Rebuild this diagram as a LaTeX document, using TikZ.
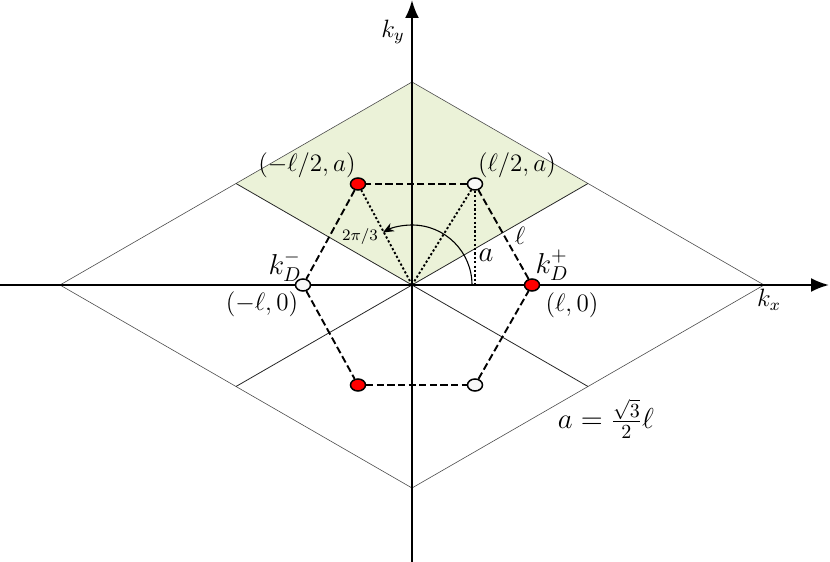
\documentclass[tikz,border=0pt]{standalone}
\usetikzlibrary{arrows.meta,shapes.geometric}
\definecolor{cellgreen}{RGB}{235,242,216}
\tikzset{
  thinline/.style={line width=0.3pt,draw=black!70},
  innerline/.style={line width=0.4pt,draw=black!85},
  axisline/.style={line width=1.15pt,-{Latex[length=9pt,width=7pt]}},
  hexline/.style={line width=0.95pt,dash pattern=on 3.6pt off 1.7pt},
  dotline/.style={line width=0.95pt,dash pattern=on 1.1pt off 1.1pt},
  dirac/.style={ellipse,draw=black,line width=0.75pt,minimum width=7.5pt,minimum height=6pt,inner sep=0pt},
  redpt/.style={dirac,fill=red},
  whitept/.style={dirac,fill=black!3},
  lab/.style={font=\fontsize{12}{15}\selectfont,inner sep=0pt,scale=1.045,transform shape},
  biglab/.style={font=\fontsize{14}{17}\selectfont,inner sep=0pt},
  smalllab/.style={font=\fontsize{8.5}{10}\selectfont,inner sep=0pt},
}
\begin{document}
\begin{tikzpicture}[x=0.5pt,y=0.5pt]
\useasboundingbox (0,0) rectangle (830,562);
\coordinate (O) at (412,277);
\coordinate (L) at (60,277);
\coordinate (R) at (764,277);
\coordinate (T) at (412,480);
\coordinate (B) at (412,74);
\coordinate (UL) at (236,378.5);
\coordinate (UR) at (588,378.5);
\coordinate (LL) at (236,175.5);
\coordinate (LR) at (588,175.5);
\coordinate (XS) at (0,277);
\coordinate (XE) at (829,277);
\coordinate (YS) at (412,0);
\coordinate (YE) at (412,562);
\coordinate (AF) at (475,277);
\fill[cellgreen] (O) -- (UR) -- (T) -- (UL) -- cycle;
\draw[thinline] (L) -- (T) -- (R) -- (B) -- cycle;
\draw[innerline] (UL) -- (O) -- (UR) (LL) -- (O) -- (LR);
\draw[axisline] (XS) -- (XE);
\draw[axisline] (YS) -- (YE);
\node[redpt] (p1) at (532,277) {};
\node[whitept] (p2) at (475,378) {};
\node[redpt] (p3) at (358,378) {};
\node[whitept] (p4) at (303,277) {};
\node[redpt] (p5) at (358,177) {};
\node[whitept] (p6) at (475,177) {};
\draw[hexline] (p1) -- (p2);
\draw[hexline] (p2) -- (p3);
\draw[hexline] (p3) -- (p4);
\draw[hexline] (p4) -- (p5);
\draw[hexline] (p5) -- (p6);
\draw[hexline] (p6) -- (p1);
\draw[dotline] (O) -- (p3);
\draw[dotline] (O) -- (p2);
\draw[dotline] (p2) -- (AF);
\draw[line width=0.55pt,-{Stealth[length=5.5pt,width=4.5pt]}] (472,277) arc[start angle=0,end angle=119,radius=30pt];
\node[lab] (ky) at (393,530) {$k_y$};
\node[lab] (kx) at (769,262) {$k_x$};
\node[lab] (a1) at (517,397) {$(\ell/2,a)$};
\node[lab] (a2) at (307,397) {$(-\ell/2,a)$};
\node[lab] (a3) at (262,258) {$(-\ell,0)$};
\node[lab] (a4) at (572,257) {$(\ell,0)$};
\node[biglab] (kp) at (552,297) {$k_D^+$};
\node[biglab] (km) at (285,296) {$k_D^-$};
\node[lab] (el) at (520,326) {$\ell$};
\node[biglab] (aa) at (486,307) {$a$};
\node[smalllab] (ang) at (360,325) {$2\pi/3$};
\node[biglab] (eq) at (606,143) {$a=\frac{\sqrt{3}}{2}\ell$};
\end{tikzpicture}
\end{document}
